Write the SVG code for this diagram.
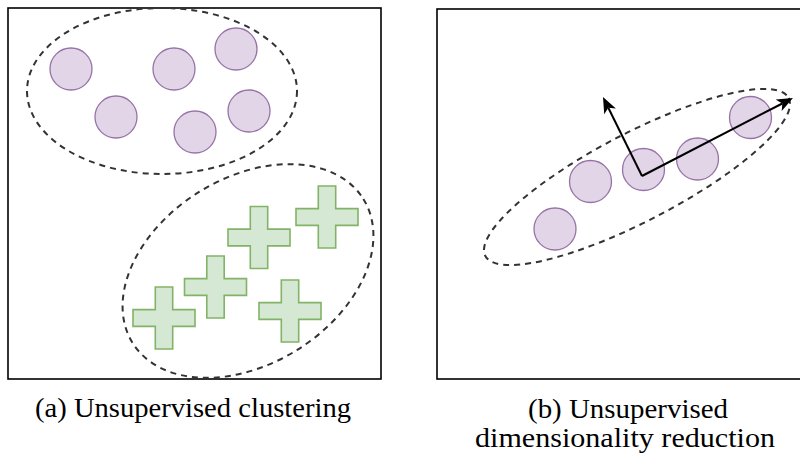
<svg xmlns="http://www.w3.org/2000/svg" xmlns:xlink="http://www.w3.org/1999/xlink" width="800" height="457" viewBox="0 0 800 457">
  <style>
    .frame { fill: #ffffff; stroke: #000000; stroke-width: 1.6; }
    .pt { fill: #e1d5e7; stroke: #9673a6; stroke-width: 1.3; }
    .plus { fill: #d5e8d4; stroke: #82b366; stroke-width: 1.6; stroke-linejoin: miter; }
    .group { fill: none; stroke: #333333; stroke-width: 2; stroke-dasharray: 6 5; }
    .axis { fill: none; stroke: #000000; stroke-width: 2; }
    .caption { font-family: "Liberation Serif", "DejaVu Serif", serif; font-size: 27.5px; fill: #000000; text-anchor: middle; }
  </style>
  <defs>
    <path id="cross" d="M-8.7,-31 H8.7 V-8.4 H31 V8.4 H8.7 V31 H-8.7 V8.4 H-31 V-8.4 H-8.7 Z"/>
    <marker id="head" markerUnits="userSpaceOnUse" markerWidth="18" markerHeight="14" refX="4" refY="6.5" orient="auto">
      <path d="M0,0 L16,6.5 L0,13 L4,6.5 Z" fill="#000000"/>
    </marker>
  </defs>

  <!-- panel (a): clustering -->
  <g id="panel-a">
    <rect class="frame" x="8" y="8" width="373" height="371"/>
  </g>
  <g id="cluster-circles">
    <ellipse class="group" cx="162" cy="91" rx="135" ry="83"/>
  </g>
  <g id="cluster-crosses">
    <ellipse class="group" cx="248" cy="271" rx="136" ry="93" transform="rotate(-32 248 271)"/>
  </g>
  <g id="c1"><circle class="pt" cx="71" cy="69" r="21"/></g>
  <g id="c2"><circle class="pt" cx="174" cy="69" r="21"/></g>
  <g id="c3"><circle class="pt" cx="236" cy="49" r="21"/></g>
  <g id="c4"><circle class="pt" cx="116" cy="117" r="21"/></g>
  <g id="c5"><circle class="pt" cx="195" cy="132" r="21"/></g>
  <g id="c6"><circle class="pt" cx="249" cy="111" r="21"/></g>
  <g id="p1"><use class="plus" xlink:href="#cross" href="#cross" transform="translate(164 318)"/></g>
  <g id="p2"><use class="plus" xlink:href="#cross" href="#cross" transform="translate(215.5 287)"/></g>
  <g id="p3"><use class="plus" xlink:href="#cross" href="#cross" transform="translate(259 237.5)"/></g>
  <g id="p4"><use class="plus" xlink:href="#cross" href="#cross" transform="translate(327 217)"/></g>
  <g id="p5"><use class="plus" xlink:href="#cross" href="#cross" transform="translate(290 311)"/></g>

  <!-- panel (b): dimensionality reduction -->
  <g id="panel-b">
    <rect class="frame" x="437" y="9" width="400" height="370"/>
  </g>
  <g id="spread">
    <ellipse class="group" cx="637" cy="177" rx="171" ry="44" transform="rotate(-27.5 637 177)"/>
  </g>
  <g id="d1"><circle class="pt" cx="555" cy="229" r="21"/></g>
  <g id="d2"><circle class="pt" cx="590.5" cy="181.5" r="21"/></g>
  <g id="d3"><circle class="pt" cx="643.5" cy="169.5" r="21"/></g>
  <g id="d4"><circle class="pt" cx="697.5" cy="159" r="21"/></g>
  <g id="d5"><circle class="pt" cx="750.5" cy="117.5" r="21"/></g>

  <g id="connectors">
    <path class="axis" d="M642,176 L782.3,103.5" marker-end="url(#head)"/>
    <path class="axis" d="M642,176 L608.3,107.8" marker-end="url(#head)"/>
  </g>

  <!-- captions -->
  <text class="caption" x="193" y="417" textLength="316" lengthAdjust="spacingAndGlyphs">(a) Unsupervised clustering</text>
  <text class="caption" x="628" y="418" textLength="200" lengthAdjust="spacingAndGlyphs">(b) Unsupervised</text>
  <text class="caption" x="625" y="447" textLength="300" lengthAdjust="spacingAndGlyphs">dimensionality reduction</text>
</svg>
